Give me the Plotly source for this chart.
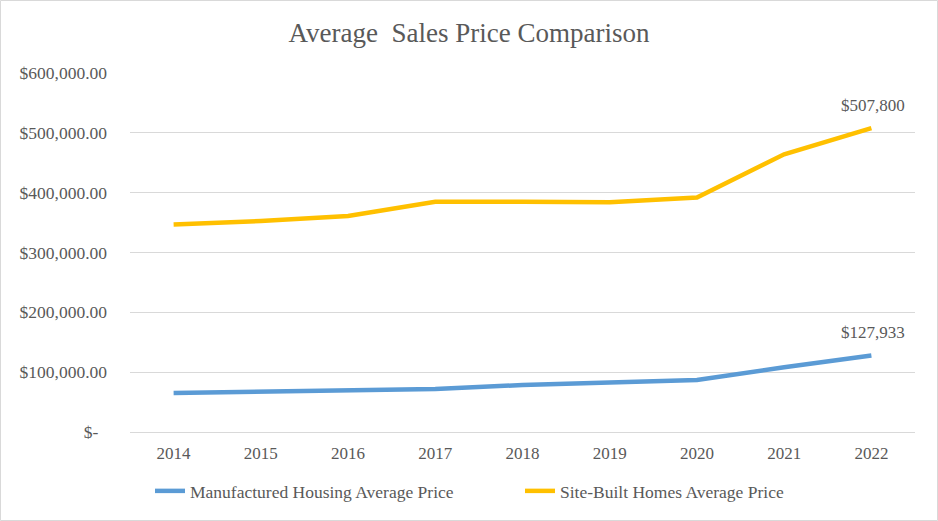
import plotly.graph_objects as go

years = ["2014", "2015", "2016", "2017", "2018", "2019", "2020", "2021", "2022"]
manufactured = [65300, 68000, 70600, 71900, 78500, 81900, 87000, 108100, 127933]
site_built = [347000, 352700, 360900, 384900, 385000, 383900, 391900, 464200, 507800]
y_ticks = [0, 100000, 200000, 300000, 400000, 500000, 600000]
y_tick_labels = ["$-\u00a0\u00a0", "$100,000.00", "$200,000.00", "$300,000.00",
                 "$400,000.00", "$500,000.00", "$600,000.00"]
series_names = ["Manufactured Housing Average Price", "Site-Built Homes Average Price"]
colors = ["#5B9BD5", "#FFC000"]

FONT = "Liberation Serif"
GREY = "#595959"

fig = go.Figure()
annotations = []
for name, vals, col in zip(series_names, [manufactured, site_built], colors):
    fig.add_trace(go.Scatter(
        x=years, y=vals, name=name, mode="lines",
        line=dict(color=col, width=4.5),
    ))
    annotations.append(dict(
        x=len(years) - 1, y=vals[-1], xref="x", yref="y",
        text="${:,.0f}".format(vals[-1]), showarrow=False,
        yshift=23, xshift=2, font=dict(family=FONT, size=17, color=GREY),
    ))

W, H = 938, 521
ml, mr, mt, mb = 130, 23, 73, 89
pw, ph = W - ml - mr, H - mt - mb

fig.update_layout(
    width=W, height=H,
    margin=dict(l=ml, r=mr, t=mt, b=mb, autoexpand=False),
    paper_bgcolor="white", plot_bgcolor="white",
    font=dict(family=FONT, color=GREY),
    title=dict(text="Average\u00a0 Sales Price Comparison", x=0.5, xanchor="center",
               xref="container",
               y=1 - 33 / H, yanchor="middle",
               font=dict(family=FONT, size=27, color=GREY)),
    xaxis=dict(type="category", range=[-0.5, 8.5], showgrid=False,
               showline=True, linecolor="#D9D9D9", linewidth=1,
               ticks="", ticklabelstandoff=6, tickangle=0, automargin=False,
               tickfont=dict(family=FONT, size=17, color=GREY)),
    yaxis=dict(range=[0, 600000], tickvals=y_ticks, ticktext=y_tick_labels,
               showgrid=True, gridcolor="#D9D9D9", gridwidth=1, zeroline=False,
               showline=False, ticks="", ticklabelstandoff=22, automargin=False,
               tickfont=dict(family=FONT, size=17.5, color=GREY)),
    legend=dict(orientation="h", x=(150 - ml) / pw, xanchor="left",
                y=-(491 - 432) / ph, yanchor="middle",
                font=dict(family=FONT, size=17.5, color=GREY),
                itemwidth=30, tracegroupgap=0,
                entrywidth=325, entrywidthmode="pixels"),
    showlegend=True,
    annotations=annotations,
    shapes=[dict(type="rect", xref="paper", yref="paper",
                 x0=-(ml - 0.5) / pw, x1=(W - ml - 0.5) / pw,
                 y0=-(mb - 0.5) / ph, y1=(H - mb - 0.5) / ph,
                 line=dict(color="#D9D9D9", width=1), layer="below")],
)

fig.write_html("out.html", config={"displayModeBar": False},
               post_script="document.body.style.margin='0';document.body.style.padding='0';")
